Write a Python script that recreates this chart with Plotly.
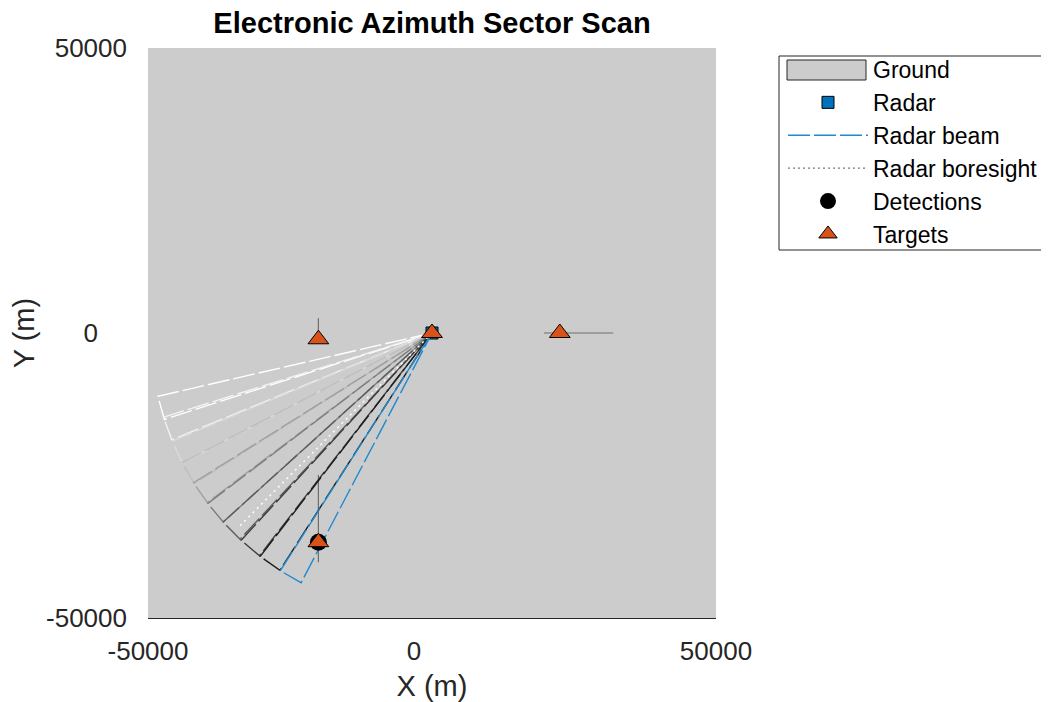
import numpy as np
import plotly.graph_objects as go

# axes
x_limits = [-50000, 50000]
y_limits = [-50000, 50000]
tick_vals = [-50000, 0, 50000]
x_tick_text = ['-50000', '0\u2007\u2007\u2008', '50000']
y_tick_text = ['-50000', '0\u2007\u2007', '50000']

# ground patch
ground_x = [-50000, 50000, 50000, -50000, -50000]
ground_y = [-50000, -50000, 50000, 50000, -50000]

# radar
radar_x = [0]
radar_y = [0]

# beam history, oldest first (azimuth of beam centre in degrees)
beam_az = [-164.6, -160.2, -155.0, -150.2, -145.5, -140.4, -135.5, -130.3, -125.2, -120.2]
beam_width = 4.9
beam_range = 49500
beam_colors = ['#ffffff', '#f2f2f2', '#dadada', '#bdbdbd', '#9e9e9e',
               '#7d7d7d', '#5c5c5c', '#3c3c3c', '#1c1c1c', '#1f8ad0']

# boresight
boresight_az = -135.0
boresight_range = 48000

# detections
det_x = [-20000]
det_y = [-36700]

# targets and their track segments
target_x = [0, -20000, 22500, -20000]
target_y = [0, -1100, 0, -36700]
track_x0 = [-20000, 19700, -20000]
track_x1 = [-20000, 31900, -20000]
track_y0 = [-1100, 0, -24900]
track_y1 = [2600, 0, -40200]

# page is offset by the default body margin, so size the figure to fit the window
W, H, OFF = 1049, 702, 8


def beam_outline(az, width, rng, n=10):
    '''
    Returns the closed outline of one beam sector starting at the radar.
    '''
    a = np.radians(np.linspace(az - width / 2, az + width / 2, n))
    xs = np.concatenate([[radar_x[0]], radar_x[0] + rng * np.cos(a), [radar_x[0]]])
    ys = np.concatenate([[radar_y[0]], radar_y[0] + rng * np.sin(a), [radar_y[0]]])
    return xs, ys


def px(x):
    # page pixel -> paper x
    return (x - 148) / 568


def py(y):
    # page pixel -> paper y
    return (618 - y) / 570


fig = go.Figure()

# ground
fig.add_trace(go.Scatter(x=ground_x, y=ground_y, fill='toself', mode='lines',
                         fillcolor='#cccccc', line=dict(width=0),
                         hoverinfo='skip', showlegend=False))
fig.add_trace(go.Scatter(x=[None], y=[None], mode='lines', name='Ground',
                         line=dict(color='rgba(0,0,0,0)', width=1), legendrank=1))

# target tracks
tx, ty = [], []
for x0, x1, y0, y1 in zip(track_x0, track_x1, track_y0, track_y1):
    tx += [x0, x1, None]
    ty += [y0, y1, None]
fig.add_trace(go.Scatter(x=tx, y=ty, mode='lines', showlegend=False,
                         line=dict(color='#6e6e6e', width=1.2)))

# radar
fig.add_trace(go.Scatter(x=radar_x, y=radar_y, mode='markers', name='Radar',
                         marker=dict(symbol='square', size=12, color='#0072BD',
                                     line=dict(color='black', width=1)),
                         legendrank=2))

# beams
for i, (az, col) in enumerate(zip(beam_az, beam_colors)):
    bx, by = beam_outline(az, beam_width, beam_range)
    last = i == len(beam_az) - 1
    fig.add_trace(go.Scatter(x=bx, y=by, mode='lines', name='Radar beam',
                             line=dict(color=col, width=1.4, dash='22px,4px'),
                             showlegend=last, legendrank=3, hoverinfo='skip'))

# boresight
b = np.radians(boresight_az)
fig.add_trace(go.Scatter(x=[radar_x[0], radar_x[0] + boresight_range * np.cos(b)],
                         y=[radar_y[0], radar_y[0] + boresight_range * np.sin(b)],
                         mode='lines', showlegend=False,
                         line=dict(color='white', width=1.5, dash='2px,4px')))
fig.add_trace(go.Scatter(x=[None], y=[None], mode='lines', name='Radar boresight',
                         line=dict(color='#7a7a7a', width=1.3, dash='2px,3px'),
                         legendrank=4))

# detections
fig.add_trace(go.Scatter(x=det_x, y=det_y, mode='markers', name='Detections',
                         marker=dict(symbol='circle', size=17, color='black'),
                         legendrank=5))

# targets
fig.add_trace(go.Scatter(x=target_x, y=target_y, mode='markers', name='Targets',
                         marker=dict(symbol='triangle-up', size=18, color='#D95319',
                                     line=dict(color='black', width=1)),
                         legendrank=6))

# legend frame and ground swatch (drawn under the transparent legend)
fig.add_shape(type='rect', xref='paper', yref='paper',
              x0=px(779), x1=px(1044), y0=py(250), y1=py(56),
              fillcolor='white', line=dict(color='#262626', width=1), layer='above')
fig.add_shape(type='rect', xref='paper', yref='paper',
              x0=px(787), x1=px(866), y0=py(80), y1=py(60),
              fillcolor='#cccccc', line=dict(color='#262626', width=1), layer='above')

fig.update_layout(
    width=W - OFF, height=H - OFF,
    margin=dict(l=148 - OFF, r=W - 716, t=48 - OFF, b=H - 618, autoexpand=False),
    paper_bgcolor='white', plot_bgcolor='white',
    font=dict(family='Liberation Sans, Arial, sans-serif', color='#262626'),
    title=dict(text='Electronic Azimuth Sector Scan', xref='paper', x=0.5,
               xanchor='center', yref='container', y=1, yanchor='top',
               pad=dict(t=5),
               font=dict(size=29, color='black', weight='bold')),
    legend=dict(x=px(783), y=py(48), xanchor='left', yanchor='top',
                bgcolor='rgba(0,0,0,0)', borderwidth=0,
                font=dict(size=23, color='black'), itemwidth=80),
    showlegend=True,
)
fig.update_xaxes(range=x_limits, tickvals=tick_vals, ticktext=x_tick_text,
                 showgrid=False, zeroline=False, ticks='', automargin=False,
                 showline=True, linecolor='#262626', linewidth=1.3,
                 ticklabelstandoff=10, tickfont=dict(size=26),
                 title=dict(text='X (m)', font=dict(size=29), standoff=12))
fig.update_yaxes(range=y_limits, tickvals=tick_vals, ticktext=y_tick_text,
                 showgrid=False, zeroline=False, ticks='', showline=False,
                 automargin=False,
                 ticklabelstandoff=20, tickfont=dict(size=26),
                 title=dict(text='Y (m)', font=dict(size=29), standoff=10))

fig.write_html("out.html")
